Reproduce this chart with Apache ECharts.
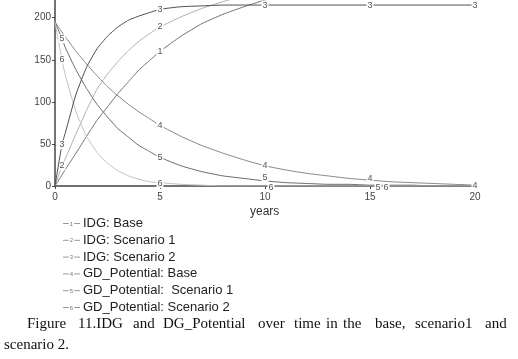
<!DOCTYPE html>
<html>
<head>
<meta charset="utf-8">
<script src="https://cdn.jsdelivr.net/npm/echarts@6/dist/echarts.min.js"></script>
<style>
  html, body { margin: 0; padding: 0; background: #fff; }
  #chart { width: 518px; height: 359px; }
</style>
</head>
<body>
<div id="chart"></div>
<script>
// time in years
var years = [0, 0.33, 0.5, 1, 1.5, 2, 2.5, 3, 3.5, 4, 4.5, 5, 6, 7, 8, 9, 10, 11, 12, 13, 14, 15, 16, 17, 18, 19, 20];

var idgBase = [0, 13, 20, 39, 59, 78, 94, 110, 124, 138, 149, 160, 178, 193, 204, 213, 221, 228, 234, 239, 243, 246, 249, 251, 253, 254, 255];
var idgScen1 = [0, 24, 33, 62, 90, 115, 133, 148, 161, 172, 181, 189, 201, 211, 219, 226, 231, 235, 238, 241, 243, 245, 246, 247, 248, 249, 250];
var idgScen2 = [0, 49, 64, 109, 141, 163, 178, 189, 197, 202, 206, 210, 213, 214, 215, 215, 215, 215, 215, 215, 215, 215, 215, 215, 215, 215, 215];
var gdBase = [195, 183, 177, 160, 145, 131, 118, 107, 97, 88, 80, 72, 59, 48, 39, 31, 24, 19, 15, 12, 9, 7, 5, 4, 3, 2, 1];
var gdScen1 = [195, 175, 164, 138, 116, 97, 82, 68, 58, 48, 41, 34, 24, 17, 12, 9, 6, 4, 3, 2, 2, 1, 1, 1, 0, 0, 0];
var gdScen2 = [195, 150, 131, 88, 59, 40, 27, 18, 12, 8, 5, 4, 2, 1, 0, 0, 0, 0, 0, 0, 0, 0, 0, 0, 0, 0, 0];

var seriesNames = ['IDG: Base', 'IDG: Scenario 1', 'IDG: Scenario 2', 'GD_Potential: Base', 'GD_Potential:  Scenario 1', 'GD_Potential: Scenario 2'];
var seriesValues = [idgBase, idgScen1, idgScen2, gdBase, gdScen1, gdScen2];
// where the little number labels sit on each curve
var labelYears = [[5], [0.33, 5], [0.33, 5, 10, 15, 20], [5, 10, 15, 20], [0.33, 5, 10, 15], [0.33, 5, 10, 15]];

var colors = ['#727272', '#b0b0b0', '#4c4c4c', '#878787', '#6a6a6a', '#c0c0c0'];
var labelOffsets = {
  '4_15': [0, -2], '4_20': [0, 0],
  '5_10': [0, -3], '5_15': [8, 2],
  '6_5': [0, 1], '6_10': [6, 2], '6_15': [16, 2]
};

var series = seriesValues.map(function (vals, i) {
  var n = i + 1;
  return {
    name: seriesNames[i],
    type: 'line',
    smooth: 0.15,
    symbol: 'circle',
    symbolSize: 0,
    showSymbol: true,
    clip: true,
    lineStyle: { color: colors[i], width: 1 },
    itemStyle: { color: colors[i] },
    label: { show: false },
    z: 2 + (i === 2 ? 2 : 0),
    data: vals.map(function (v, k) {
      var t = years[k];
      if (labelYears[i].indexOf(t) >= 0) {
        var off = labelOffsets[n + '_' + t] || [0, 0];
        return {
          value: [t, v],
          label: {
            show: true, position: 'inside', formatter: String(n),
            color: '#555', fontSize: 9, fontFamily: 'Liberation Sans',
            backgroundColor: 'rgba(255,255,255,0.95)', padding: [0, 1],
            offset: off
          }
        };
      }
      return [t, v];
    })
  };
});

// legend drawn like the original tool's key
var graphics = [];
seriesNames.forEach(function (name, i) {
  var y = 223.5 + i * 16.8;
  graphics.push({
    type: 'line',
    shape: { x1: 63, y1: y, x2: 80, y2: y },
    style: { stroke: '#999', lineWidth: 1 }
  });
  graphics.push({
    type: 'text',
    style: { x: 71.5, y: y + 0.5, text: String(i + 1), fontSize: 6, fill: '#777', backgroundColor: '#fff', padding: [0, 1],
      align: 'center', verticalAlign: 'middle', fontFamily: 'Liberation Sans' }
  });
  graphics.push({
    type: 'text',
    style: { x: 83, y: y, text: name, fontSize: 13, fill: '#222', verticalAlign: 'middle', fontFamily: 'Liberation Sans' }
  });
});

// caption, justified by hand
var captionWords = ['Figure', '11.IDG', 'and', 'DG_Potential', 'over', 'time', 'in', 'the', 'base,', 'scenario1', 'and'];
var captionX = [27, 78, 133, 163, 258, 294, 326, 343, 375, 415, 485];
captionWords.forEach(function (w, i) {
  graphics.push({
    type: 'text',
    style: { x: captionX[i], y: 324, text: w, fontSize: 15, fill: '#111', verticalAlign: 'middle', fontFamily: 'Liberation Serif' }
  });
});
graphics.push({
  type: 'text',
  style: { x: 4, y: 345, text: 'scenario 2.', fontSize: 15, fill: '#111', verticalAlign: 'middle', fontFamily: 'Liberation Serif' }
});
graphics.push({
  type: 'text',
  style: { x: 250, y: 212, text: 'years', fontSize: 12, fill: '#333', verticalAlign: 'middle', fontFamily: 'Liberation Sans' }
});

var chart = echarts.init(document.getElementById('chart'));
chart.setOption({
  animation: false,
  backgroundColor: '#fff',
  grid: { left: 55, right: 43, top: 0, bottom: 173, containLabel: false },
  xAxis: {
    type: 'value', min: 0, max: 20, interval: 5,
    axisLine: { lineStyle: { color: '#444', width: 1.5 } },
    axisTick: { show: true, length: 3, lineStyle: { color: '#444' } },
    axisLabel: { color: '#444', fontSize: 10, margin: 6, fontFamily: 'Liberation Sans' },
    splitLine: { show: false }
  },
  yAxis: {
    type: 'value', min: 0, max: 221, interval: 50,
    axisLine: { show: true, lineStyle: { color: '#444', width: 1.5 } },
    axisTick: { show: true, length: 3, lineStyle: { color: '#444' } },
    axisLabel: { color: '#444', fontSize: 10, margin: 4, fontFamily: 'Liberation Sans', showMaxLabel: false },
    splitLine: { show: false }
  },
  series: series,
  graphic: graphics
});
</script>
</body>
</html>
